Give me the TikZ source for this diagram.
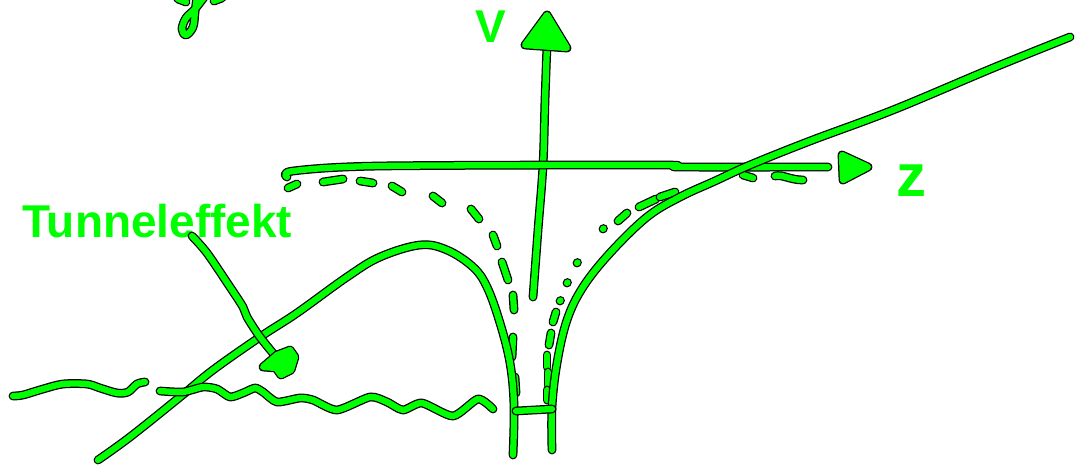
\documentclass[tikz,border=0pt]{standalone}
\usepackage{fontspec}
\setmainfont{Liberation Sans}
\definecolor{pengreen}{RGB}{0,255,0}
\tikzset{
  pen/.style={draw=pengreen, line width=6.3pt, line cap=round, line join=round,
    preaction={draw=black, line width=8.8pt, line cap=round, line join=round}},
  head/.style={pen, fill=pengreen},
  lbl/.style={text=pengreen, inner sep=0pt, font=\bfseries}
}
\begin{document}
\begin{tikzpicture}[x=1pt,y=-1pt]
\useasboundingbox (0,0) rectangle (1075,466);
% fragment of handwriting at the top
\draw[pen] plot[smooth, tension=0.6] coordinates {(197,-4) (195,12) (193,27) (186,35) (182,29) (186,18) (195,9) (205,-4)};
\draw[pen] (178,-1) -- (186,2);
\draw[pen] (214,1) -- (222,-2);
% labels
\node[lbl] (V) at (491,27) {\fontsize{46}{46}\selectfont V};
\node[lbl] (z) at (911,181) {\fontsize{60}{60}\selectfont z};
\node[lbl, anchor=base west] (tun) at (22,237) {\fontsize{46}{46}\selectfont Tunneleffekt};
% coordinates
\coordinate (vbot) at (533,297);
\coordinate (vtip) at (547,15);
\coordinate (hleft) at (287,177);
\coordinate (htip) at (868,167);
% vertical axis
\draw[pen] plot[smooth, tension=0.6] coordinates {(vbot) (538,230) (543,165) (545,100) (547,45)};
\draw[head] (vtip) -- (525,45) -- (567,48) -- cycle;
% horizontal axis
\draw[pen] plot[smooth, tension=0.5] coordinates {(hleft) (293,171) (380,166) (660,165) (680,167) (828,167)};
\draw[head] (842,155) -- (htip) -- (843,180) -- cycle;
% dashed curve, left part
\draw[pen] (288,188) -- (297,184);
\draw[pen] (323,182) -- (343,179);
\draw[pen] (360,181) -- (373,183);
\draw[pen] (392,186) -- (402,192);
\draw[pen] (433,196) -- (442,203);
\draw[pen] (471,209) -- (479,219);
\draw[pen] (493,235) -- (497,246);
\draw[pen] (502,262) -- (508,280);
\draw[pen] (513,295) -- (514,310);
\draw[pen] (513,337) -- (512,357);
\draw[pen] (515,377) -- (516,393);
% dashed curve, right part
\draw[pen] (547,355) -- (547,367);
\draw[pen] (548,372) -- (548,385);
\draw[pen] (547,390) -- (547,400);
\draw[pen] (551,333) -- (549,345);
\draw[pen] (556,312) -- (553,322);
\draw[pen] (560,301) -- (560.5,300.5);
\draw[pen] (567,283) -- (567.5,282.5);
\draw[pen] (577,263) -- (577.5,262.5);
\draw[pen] (603,229) -- (603.5,228.5);
\draw[pen] (618,221) -- (627,213);
\draw[pen] (639,207) -- (656,199);
\draw[pen] (660,197) -- (675,192);
\draw[pen] (743,175) -- (753,178);
\draw[pen] (775,176) .. controls (782,174) and (790,180) .. (803,180);
% potential: left hump into the well
\draw[pen] plot[smooth, tension=0.6] coordinates {(98,460) (130,437) (180,397) (213,370) (260,337) (297,313) (347,277) (380,257) (420,245) (447,250) (473,267) (487,287) (500,323) (510,363) (514,405) (513,455)};
% right branch
\draw[pen] plot[smooth, tension=0.6] coordinates {(552,450) (552,407) (557,363) (567,320) (583,287) (610,253) (647,217) (680,197) (715,181) (750,165) (810,141) (893,110) (993,68) (1070,37)};
% well bottom bar
\draw[pen] (516,411) -- (552,409);
% wavy line
\draw[pen] plot[smooth, tension=0.5] coordinates {(13,396) (23,395) (43,389) (63,384) (87,384) (100,388) (117,393) (128,392) (137,384) (145,382)};
\draw[pen] plot[smooth, tension=0.4] coordinates {(160,391) (183,392) (203,387) (217,389) (230,397) (243,393) (255,388) (263,392) (277,402) (300,398) (313,400) (337,410) (370,397) (387,402) (403,410) (422,403) (453,416) (478,399) (493,409)};
% Tunneleffekt arrow
\draw[pen] plot[smooth, tension=0.5] coordinates {(192,236) (207,253) (230,287) (243,307) (247,317) (260,337) (277,358)};
\draw[head] (263,367) -- (277,355) -- (290,350) -- (295,357) -- (291,370) -- (281,375) -- (276,368) -- cycle;
\end{tikzpicture}
\end{document}
